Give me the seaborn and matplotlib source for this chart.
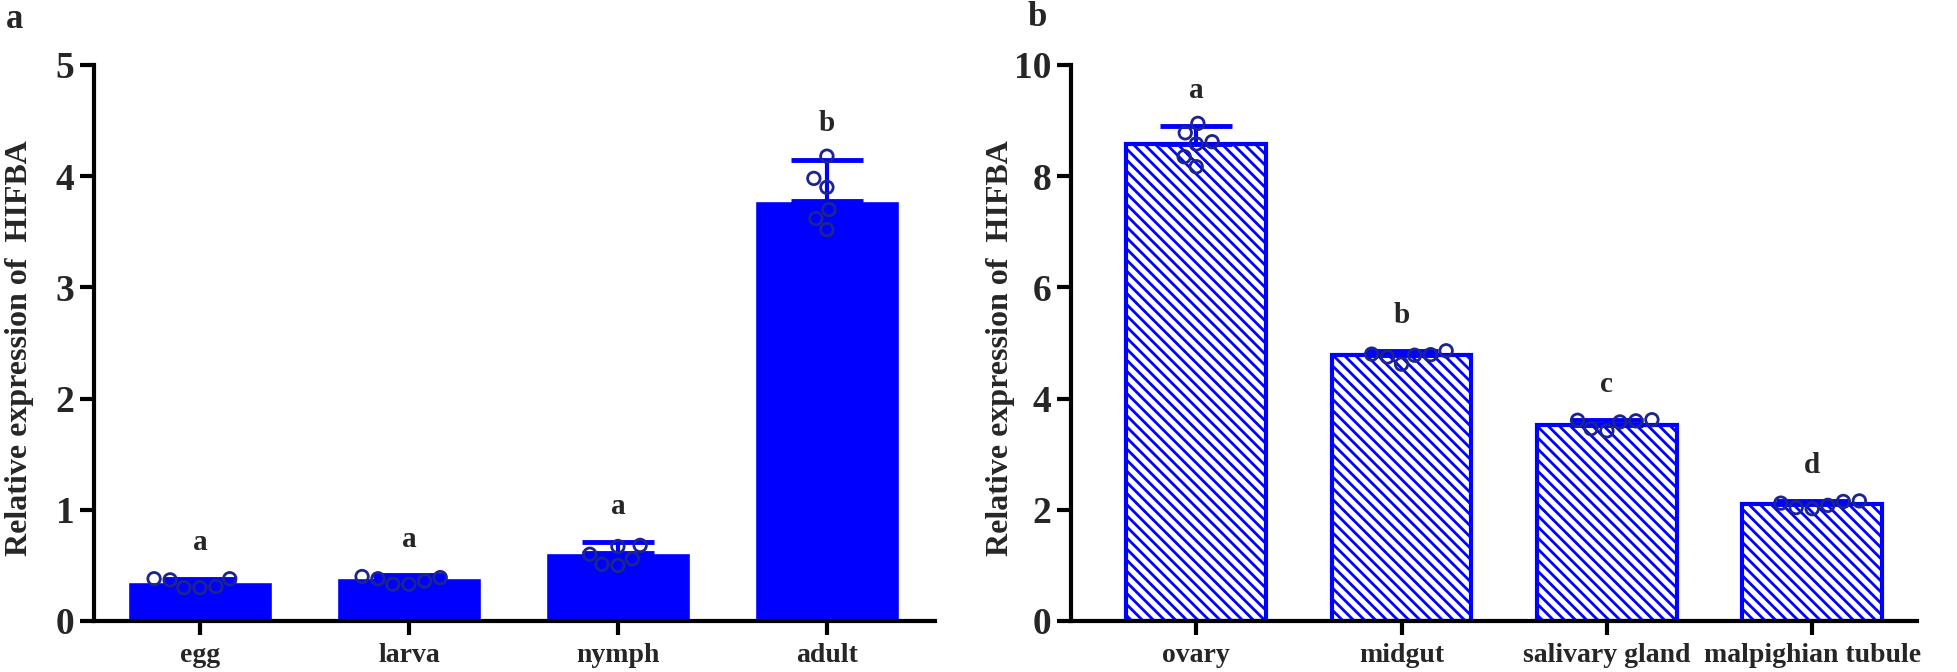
import numpy as np
import pandas as pd
import matplotlib
matplotlib.use("Agg")
import matplotlib.pyplot as plt
import seaborn as sns

# panel a: developmental stages
stages = ["egg", "larva", "nymph", "adult"]
stage_mean = [0.35, 0.39, 0.61, 3.78]
stage_sd = [0.03, 0.02, 0.10, 0.37]
stage_letters = ["a", "a", "a", "b"]
stage_points = {
    "egg": [0.38, 0.38, 0.37, 0.31, 0.30, 0.30],
    "larva": [0.40, 0.39, 0.38, 0.36, 0.33, 0.33],
    "nymph": [0.68, 0.67, 0.60, 0.56, 0.51, 0.50],
    "adult": [4.18, 3.98, 3.90, 3.70, 3.62, 3.52],
}

# panel b: tissues
tissues = ["ovary", "midgut", "salivary gland", "malpighian tubule"]
tissue_mean = [8.57, 4.78, 3.53, 2.10]
tissue_sd = [0.33, 0.08, 0.08, 0.05]
tissue_letters = ["a", "b", "c", "d"]
tissue_points = {
    "ovary": [8.95, 8.78, 8.62, 8.58, 8.35, 8.17],
    "midgut": [4.86, 4.80, 4.79, 4.78, 4.75, 4.62],
    "salivary gland": [3.62, 3.61, 3.60, 3.58, 3.46, 3.42],
    "malpighian tubule": [2.16, 2.15, 2.12, 2.08, 2.04, 2.02],
}

sns.set_style("ticks")
plt.rcParams['font.family'] = ['Liberation Serif', 'DejaVu Serif']
plt.rcParams['font.weight'] = 'bold'
plt.rcParams['hatch.linewidth'] = 2.0
plt.rcParams['hatch.color'] = '#0000ff'

blue = "#0000ff"
navy = "#1c2490"

fig = plt.figure(figsize=(19.58, 6.72), dpi=100)
ax1 = fig.add_axes([0.048, 0.0759, 0.4295, 0.8274])
ax2 = fig.add_axes([0.547, 0.0759, 0.432, 0.8274])


def long_df(points, cats):
    rows = []
    for c in cats:
        for v in points[c]:
            rows.append((c, v))
    return pd.DataFrame(rows, columns=["group", "value"])


def draw(ax, cats, means, sds, letters, points, ymax, hatched, bar_w, xl, lab_x):
    if hatched:
        sns.barplot(x=cats, y=means, ax=ax, color="white", width=bar_w,
                    edgecolor=blue, linewidth=3, errorbar=None, saturation=1)
        for p in ax.patches:
            p.set_hatch("\\\\\\")
            p.set_facecolor("white")
    else:
        sns.barplot(x=cats, y=means, ax=ax, color=blue, width=bar_w,
                    errorbar=None, saturation=1)
    ax.errorbar(np.arange(len(cats)), means, yerr=[np.zeros(len(sds)), sds],
                fmt="none", ecolor=blue, elinewidth=3, capsize=26, capthick=3.5,
                zorder=1 if hatched else 3)
    df = long_df(points, cats)
    n0 = len(ax.collections)
    sns.swarmplot(data=df, x="group", y="value", order=cats, ax=ax,
                  color=navy, size=9, zorder=4)
    for coll in ax.collections[n0:]:
        coll.set_facecolor("none")
        coll.set_edgecolor(navy)
        coll.set_linewidth(2)
    for i, (m, s, l) in enumerate(zip(means, sds, letters)):
        ax.text(i, m + s + ymax * 0.04, l, ha="center", va="bottom",
                fontsize=21, fontweight="bold")
    ax.set_ylim(0, ymax)
    ax.set_xlim(*xl)
    sns.despine(ax=ax)
    for sp in ["left", "bottom"]:
        ax.spines[sp].set_linewidth(3)
        ax.spines[sp].set_color("black")
    ax.tick_params(axis="both", length=10, width=3, color="black")
    ax.tick_params(axis="y", labelsize=27, pad=4)
    ax.tick_params(axis="x", labelsize=20, pad=6)
    for t in ax.get_yticklabels() + ax.get_xticklabels():
        t.set_fontweight("bold")
    ax.set_xlabel("")
    ax.set_ylabel("Relative expression of  HIFBA", fontsize=23,
                  fontweight="bold")
    ax.yaxis.set_label_coords(lab_x, 0.49)


draw(ax1, stages, stage_mean, stage_sd, stage_letters, stage_points, 5,
     False, 0.69, (-0.507, 3.517), -0.071)
ax1.set_yticks([0, 1, 2, 3, 4, 5])
draw(ax2, tissues, tissue_mean, tissue_sd, tissue_letters, tissue_points, 10,
     True, 0.68, (-0.61, 3.51), -0.066)
ax2.set_yticks([0, 2, 4, 6, 8, 10])

fig.text(0.003, 0.995, "a", fontsize=25, fontweight="bold", va="top")
fig.text(0.525, 0.998, "b", fontsize=25, fontweight="bold", va="top")

fig.savefig("out.png", dpi=100)
